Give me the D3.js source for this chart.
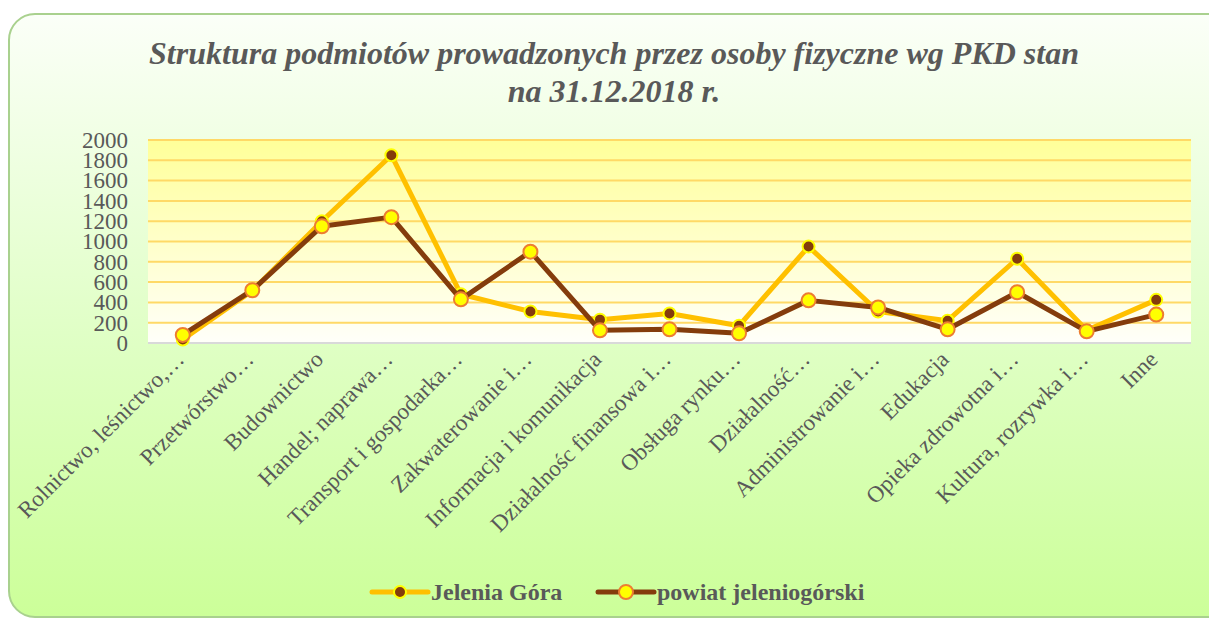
<!DOCTYPE html>
<html>
<head>
<meta charset="utf-8">
<script src="https://cdn.jsdelivr.net/npm/d3@7"></script>
<style>
  body { margin: 0; background: #fff; }
  svg text { font-family: "Liberation Serif", "Times New Roman", serif; }
</style>
</head>
<body>
<div id="chart"></div>
<script>
// Data
const categories = [
  "Rolnictwo, leśnictwo,…", "Przetwórstwo…", "Budownictwo", "Handel; naprawa…",
  "Transport i gospodarka…", "Zakwaterowanie i…", "Informacja i komunikacja",
  "Działalnośc finansowa i…", "Obsługa rynku…", "Działalność…", "Administrowanie i…",
  "Edukacja", "Opieka zdrowotna i…", "Kultura, rozrywka i…", "Inne"
];
const jeleniaGora = [35, 515, 1200, 1850, 480, 310, 230, 290, 170, 950, 310, 220, 830, 125, 425];
const powiat = [80, 520, 1150, 1240, 430, 900, 125, 135, 95, 420, 350, 135, 500, 115, 280];
const yTicks = [0, 200, 400, 600, 800, 1000, 1200, 1400, 1600, 1800, 2000];
const seriesNames = ["Jelenia Góra", "powiat jeleniogórski"];

const width = 1209, height = 619;
const plot = {left: 148, right: 1191, top: 140, bottom: 343};

const svg = d3.select("#chart").append("svg")
  .attr("width", width)
  .attr("height", height);

const defs = svg.append("defs");

const bgGrad = defs.append("linearGradient")
  .attr("id", "bgGrad").attr("x1", 0).attr("y1", 0).attr("x2", 0).attr("y2", 1);
bgGrad.append("stop").attr("offset", "0%").attr("stop-color", "#fbfff8");
bgGrad.append("stop").attr("offset", "55%").attr("stop-color", "#dfffc4");
bgGrad.append("stop").attr("offset", "100%").attr("stop-color", "#ccff99");

const plotGrad = defs.append("linearGradient")
  .attr("id", "plotGrad").attr("x1", 0).attr("y1", 0).attr("x2", 0).attr("y2", 1);
plotGrad.append("stop").attr("offset", "0%").attr("stop-color", "#ffff99");
plotGrad.append("stop").attr("offset", "100%").attr("stop-color", "#fffffa");

// Chart area box
svg.append("rect")
  .attr("x", 9).attr("y", 14)
  .attr("width", 1230).attr("height", 603)
  .attr("rx", 26).attr("ry", 26)
  .attr("fill", "url(#bgGrad)")
  .attr("stroke", "#a9d18e")
  .attr("stroke-width", 2);

// Title
const title = svg.append("text")
  .attr("text-anchor", "middle")
  .style("font-size", "32px")
  .style("font-weight", "bold")
  .style("font-style", "italic")
  .attr("fill", "#595959");
title.append("tspan").attr("x", 614).attr("y", 64)
  .text("Struktura podmiotów prowadzonych przez osoby fizyczne wg PKD stan");
title.append("tspan").attr("x", 614).attr("y", 102)
  .text("na 31.12.2018 r.");

// Scales
const x = d3.scaleBand()
  .domain(categories)
  .range([plot.left, plot.right]);

const y = d3.scaleLinear()
  .domain([0, 2000])
  .range([plot.bottom, plot.top]);

// Plot area background
svg.append("rect")
  .attr("x", plot.left).attr("y", plot.top)
  .attr("width", plot.right - plot.left)
  .attr("height", plot.bottom - plot.top)
  .attr("fill", "url(#plotGrad)");

// Gridlines
svg.append("g")
  .selectAll("line")
  .data(yTicks.filter(d => d > 0))
  .join("line")
  .attr("x1", plot.left).attr("x2", plot.right)
  .attr("y1", d => y(d)).attr("y2", d => y(d))
  .attr("stroke", "#ffd966")
  .attr("stroke-width", 2);

// Y axis
const yAxis = svg.append("g")
  .attr("transform", `translate(${plot.left},0)`)
  .call(d3.axisLeft(y).tickValues(yTicks).tickFormat(d3.format("d")).tickSize(0).tickPadding(20));
yAxis.select(".domain").remove();
yAxis.selectAll("text")
  .style("font-size", "23px")
  .attr("fill", "#595959");

// X axis
svg.append("line")
  .attr("x1", plot.left).attr("x2", plot.right)
  .attr("y1", plot.bottom).attr("y2", plot.bottom)
  .attr("stroke", "#d9d9d9")
  .attr("stroke-width", 2);

svg.append("g")
  .selectAll("text")
  .data(categories)
  .join("text")
  .attr("transform", d => `translate(${x(d) + x.bandwidth() / 2 - 3},${plot.bottom + 12}) rotate(-45)`)
  .attr("text-anchor", "end")
  .attr("dy", "0.35em")
  .style("font-size", "23px")
  .attr("fill", "#595959")
  .text(d => d);

// Series
const series = [
  {name: seriesNames[0], values: jeleniaGora, line: "#ffc000", fill: "#843c0c", stroke: "#ffff00", r: 6},
  {name: seriesNames[1], values: powiat, line: "#843c0c", fill: "#ffff00", stroke: "#ed7d31", r: 7}
];

const lineGen = d3.line()
  .x((d, i) => x(categories[i]) + x.bandwidth() / 2)
  .y(d => y(d));

series.forEach(s => {
  svg.append("path")
    .datum(s.values)
    .attr("fill", "none")
    .attr("stroke", s.line)
    .attr("stroke-width", 5)
    .attr("stroke-linejoin", "round")
    .attr("d", lineGen);

  svg.append("g")
    .selectAll("circle")
    .data(s.values)
    .join("circle")
    .attr("cx", (d, i) => x(categories[i]) + x.bandwidth() / 2)
    .attr("cy", d => y(d))
    .attr("r", s.r)
    .attr("fill", s.fill)
    .attr("stroke", s.stroke)
    .attr("stroke-width", 2);
});

// Legend
const legendPos = [372, 598];
series.forEach((s, i) => {
  const g = svg.append("g").attr("transform", `translate(${legendPos[i]},592)`);
  g.append("line")
    .attr("x1", 0).attr("x2", 56)
    .attr("stroke", s.line)
    .attr("stroke-width", 5)
    .attr("stroke-linecap", "round");
  g.append("circle")
    .attr("cx", 28).attr("r", s.r)
    .attr("fill", s.fill)
    .attr("stroke", s.stroke)
    .attr("stroke-width", 2);
  g.append("text")
    .attr("x", 59)
    .attr("dy", "0.35em")
    .style("font-size", "24px")
    .style("font-weight", "bold")
    .attr("fill", "#595959")
    .text(s.name);
});
</script>
</body>
</html>
